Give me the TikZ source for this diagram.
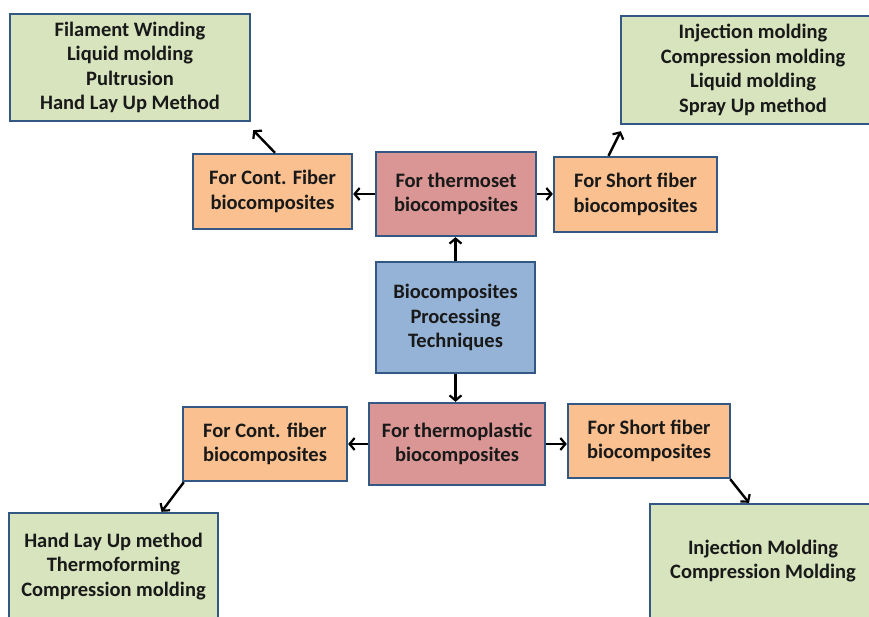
\documentclass[tikz,border=0pt]{standalone}
\usepackage{fontspec}
\setmainfont{Carlito}
\usetikzlibrary{arrows.meta}
\definecolor{bordc}{RGB}{52,88,132}
\definecolor{greenc}{RGB}{215,228,189}
\definecolor{orangec}{RGB}{250,192,143}
\definecolor{redc}{RGB}{217,150,148}
\definecolor{bluec}{RGB}{149,179,215}
\tikzset{
  box/.style={draw=bordc, line width=2.4pt, align=center, inner sep=0pt,
    font=\fontsize{20.5}{24.5}\selectfont\bfseries, text=black!90},
  gbox/.style={box, fill=greenc},
  obox/.style={box, fill=orangec},
  rbox/.style={box, fill=redc},
  bbox/.style={box, fill=bluec},
  arr/.style={draw=black, line width=2.4pt, -{Straight Barb[length=5pt,width=12pt,line width=2.2pt]}}
}
\begin{document}
\begin{tikzpicture}[x=1pt,y=1pt]
\useasboundingbox (0,0) rectangle (869,-617);
\clip (0,0) rectangle (869,-617);
\fill[white] (0,0) rectangle (869,-617);
\node[gbox, minimum width=240pt, minimum height=107pt] (gTL) at (130,-67.5)
  {Filament Winding\\Liquid molding\\Pultrusion\\Hand Lay Up Method};
\node[obox, minimum width=159pt, minimum height=75pt] (oTL) at (272.5,-191.5)
  {For Cont. Fiber\\biocomposites};
\node[rbox, minimum width=160pt, minimum height=84pt] (rTS) at (456,-194)
  {For thermoset\\biocomposites};
\node[obox, minimum width=163pt, minimum height=75pt] (oTR) at (635.5,-194.5)
  {For Short fiber\\biocomposites};
\node[gbox, minimum width=264pt, minimum height=108pt] (gTR) at (753,-70)
  {Injection molding\\Compression molding\\Liquid molding\\Spray Up method};
\node[bbox, minimum width=159pt, minimum height=111pt] (bl) at (455.5,-317.5)
  {Biocomposites\\Processing\\Techniques};
\node[rbox, minimum width=176pt, minimum height=82pt] (rTP) at (457,-444)
  {For thermoplastic\\biocomposites};
\node[obox, minimum width=164pt, minimum height=74pt] (oBL) at (265,-444)
  {For Cont. fiber\\biocomposites};
\node[obox, minimum width=162pt, minimum height=74pt] (oBR) at (649,-441)
  {For Short fiber\\biocomposites};
\node[gbox, minimum width=209pt, minimum height=107pt] (gBL) at (113.5,-566.5)
  {Hand Lay Up method\\Thermoforming\\Compression molding};
\node[gbox, minimum width=226pt, minimum height=114pt] (gBR) at (763,-561)
  {Injection Molding\\Compression Molding};
% connectors
\draw[arr] (bl.north) -- (bl.north |- rTS.south);
\draw[arr] (bl.south) -- (bl.south |- rTP.north);
\draw[arr] (rTS.west) -- (rTS.west -| oTL.east);
\draw[arr] (rTS.east) -- (rTS.east -| oTR.west);
\draw[arr] ([xshift=2.5pt]oTL.north) -- ([xshift=2pt,yshift=-8pt]gTL.south east);
\draw[arr] ([xshift=-27pt]oTR.north) -- ([xshift=1pt,yshift=-6pt]gTR.south west);
\draw[arr] (rTP.west) -- (rTP.west -| oBL.east);
\draw[arr] (rTP.east) -- (rTP.east -| oBR.west);
\draw[arr] ([xshift=2pt]oBL.south west) -- ([xshift=48pt]gBL.north);
\draw[arr] ([xshift=-1pt]oBR.south east) -- ([xshift=-14pt]gBR.north);
\end{tikzpicture}
\end{document}
